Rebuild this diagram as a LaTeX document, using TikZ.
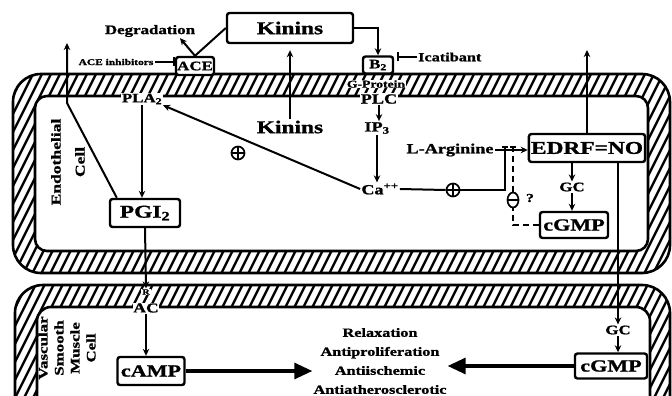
\documentclass[tikz,border=0pt]{standalone}
\usepackage{fontspec}
\setmainfont{Liberation Serif}[FakeStretch=1.3,FakeBold=1.2]
\usetikzlibrary{arrows.meta,shapes.geometric,calc}
\newcommand\myfs[1]{\fontsize{#1}{#1}\selectfont\bfseries}
\begin{document}
\begin{tikzpicture}[x=1pt,y=-1pt,
  box/.style={draw,line width=2.4pt,rounded corners=2.5pt,fill=white,inner sep=2pt},
  lbl/.style={inner sep=1pt},
  wlbl/.style={inner sep=0.8pt,fill=white},
  conn/.style={line width=2pt},
  arr/.style={conn,-{Stealth[length=7pt,width=6.5pt]}},
  inh/.style={conn,-{Bar[width=9pt]}},
  big/.style={line width=3.2pt,-{Triangle[length=18pt,width=16pt]}},
  cplus/.style={circle,draw,line width=1.7pt,minimum size=13pt,inner sep=0pt,fill=white,
    path picture={\draw[line width=1.6pt] (path picture bounding box.north) -- (path picture bounding box.south)
      (path picture bounding box.west) -- (path picture bounding box.east);}},
  cminus/.style={ellipse,draw,line width=1.7pt,minimum width=11pt,minimum height=15pt,inner sep=0pt,fill=white,
    path picture={\draw[line width=1.6pt] (path picture bounding box.west) -- (path picture bounding box.east);}},
  hatch/.style={line width=2.4pt},
  memb/.style={line width=2.6pt}]
\useasboundingbox (0,0) rectangle (672,396);
\clip (0,0) rectangle (672,396);
% membranes
\begin{scope}
\clip[rounded corners=28pt] (13,74) rectangle (670,273);
\foreach \i in {-240,-231,...,690} \draw[hatch] (\i,440) -- ++(220,-440);
\end{scope}
\begin{scope}
\clip[rounded corners=28pt] (15,285) rectangle (670,440);
\foreach \i in {-240,-231,...,690} \draw[hatch] (\i,440) -- ++(220,-440);
\end{scope}
\fill[white,rounded corners=12pt] (35,96) rectangle (648,251);
\fill[white,rounded corners=14pt] (37,307) rectangle (650,440);
\draw[memb,rounded corners=28pt] (13,74) rectangle (670,273);
\draw[memb,rounded corners=12pt] (35,96) rectangle (648,251);
\draw[memb,rounded corners=28pt] (15,285) rectangle (670,440);
\draw[memb,rounded corners=14pt] (37,307) rectangle (650,440);
% nodes
\node[box,minimum width=126pt,minimum height=30pt,font=\myfs{18}] (kin) at (290,28) {Kinins};
\node[lbl,font=\myfs{13}] (deg) at (150,31) {Degradation};
\node[box,minimum width=38pt,minimum height=18pt,inner sep=1pt,font=\myfs{13}] (ace) at (195,66) {ACE};
\node[lbl,font=\myfs{8.8}] (aceinh) at (116,62) {ACE inhibitors};
\node[box,minimum width=30pt,minimum height=17pt,inner sep=1pt,font=\myfs{13}] (b2) at (378,65) {B\textsubscript{2}};
\node[lbl,anchor=west,font=\myfs{12.5}] (icat) at (417,57) {Icatibant};
\node[wlbl,font=\myfs{10.5}] (gp) at (376,84) {G-Protein};
\node[wlbl,font=\myfs{14}] (plc) at (379,99) {PLC};
\node[lbl,font=\myfs{14}] (ip3) at (377,128) {IP\textsubscript{3}};
\node[lbl,font=\myfs{14}] (ca) at (380,189) {Ca\textsuperscript{++}};
\node[cplus] (p1) at (453,190) {};
\node[lbl,font=\myfs{14}] (larg) at (450,150) {L-Arginine};
\node[box,minimum width=116pt,minimum height=28pt,font=\myfs{18}] (edrf) at (587,148) {EDRF=NO};
\node[lbl,font=\myfs{13}] (gc1) at (572,187) {GC};
\node[box,minimum width=68pt,minimum height=26pt,font=\myfs{17}] (cg1) at (574,225) {cGMP};
\node[cminus] (m1) at (513,200) {};
\node[lbl,font=\myfs{12}] (q) at (530,198) {?};
\node[wlbl,font=\myfs{13}] (pla) at (142,99) {PLA\textsubscript{2}};
\node[cplus] (p2) at (238,153) {};
\node[lbl,font=\myfs{18}] (kin2) at (290,127) {Kinins};
\node[box,minimum width=70pt,minimum height=28pt,font=\myfs{18}] (pgi) at (145,213) {PGI\textsubscript{2}};
\node[wlbl,font=\myfs{8}] (r) at (146,292) {R};
\node[wlbl,font=\myfs{13.5}] (ac) at (146,308) {AC};
\node[box,minimum width=67pt,minimum height=28pt,font=\myfs{17}] (camp) at (151,371) {cAMP};
\node[lbl,font=\myfs{13}] (gc2) at (618,330) {GC};
\node[box,minimum width=72pt,minimum height=25pt,font=\myfs{17}] (cg2) at (611,366) {cGMP};
\node[lbl,align=center,font={\fontsize{12.5}{19}\selectfont\bfseries}] (eff) at (380,361) {Relaxation\\Antiproliferation\\Antiischemic\\Antiatherosclerotic};
\node[rotate=90,align=center,font={\fontsize{13.5}{24}\selectfont\bfseries}] (el) at (68,162) {Endothelial\\Cell};
\node[rotate=90,align=center,font={\fontsize{13}{16}\selectfont\bfseries}] (vl) at (67,348) {Vascular\\Smooth\\Muscle\\Cell};
\coordinate (j1) at (505,146);
\coordinate (j2) at (513,146);
\coordinate (etip) at (587,50);
\coordinate (lb) at (67,103);
\coordinate (lt) at (67,43);
% connectors
\draw[conn] (kin.west) -- (ace.north);
\draw[arr] (ace.north) -- ($(deg.south)+(30,0)$);
\draw[inh] (aceinh.east) -- (aceinh.east -| ace.west);
\draw[arr] (kin.east) -| (b2.north);
\draw[inh] (icat.west) -- ($(b2.east |- icat.west)+(3,0)$);
\draw[arr] (plc.south) -- (plc.south |- ip3.north);
\draw[arr] (ip3.south) -- (ip3.south |- ca.north);
\draw[arr] (ca.west) -- (pla.south east);
\draw[conn] (ca.east) -- (p1.west);
\draw[conn,-{Bar[width=6pt]}] (p1.east) -| (j1);
\draw[conn,dash pattern=on 6pt off 4pt,-{Bar[width=6pt]}] (m1.north) -- (j2);
\draw[conn,dash pattern=on 6pt off 4pt] (cg1.west) -| (m1.south);
\draw[arr] (larg.east) -- (larg.east -| edrf.west);
\draw[arr] (gc1.north |- edrf.south) -- (gc1.north);
\draw[arr] (gc1.south) -- (gc1.south |- cg1.north);
\draw[arr] (edrf.north) -- (etip);
\draw[arr] (gc2.north |- edrf.south) -- (gc2.north);
\draw[arr] (gc2.south) -- (gc2.south |- cg2.north);
\draw[arr] (pla.south) -- (pla.south |- pgi.north);
\draw[arr] (kin2.north) -- ($(kin2.north |- kin.south)+(0,6)$);
\draw[arr] ($(pgi.north west)+(8,0)$) -- (lb) -- (lt);
\draw[arr] (pgi.south) -- (r.north);
\draw[arr] (ac.south) -- (ac.south |- camp.north);
\draw[big] (camp.east) -- (camp.east -| eff.west);
\draw[big] (cg2.west) -- (cg2.west -| eff.east);
\end{tikzpicture}
\end{document}
